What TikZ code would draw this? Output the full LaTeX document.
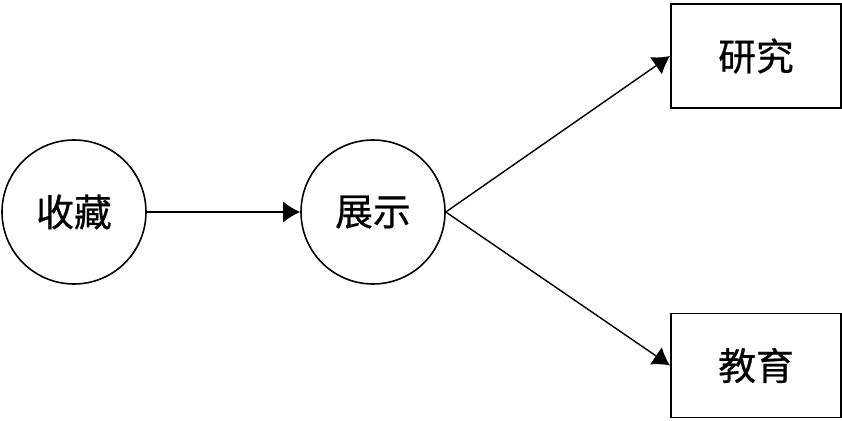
\documentclass[tikz,border=0pt]{standalone}
\usepackage{fontspec}
\newfontfamily\cjk[FakeBold=0.6]{Noto Sans CJK SC}
\usetikzlibrary{arrows.meta}

\begin{document}
\begin{tikzpicture}[
        every node/.style={font=\cjk\fontsize{21.5}{26}\selectfont},
        stage/.style={
            draw,
            circle,
            line width=0.9pt,
            inner sep=0pt,
            minimum size=2.88cm
        },
        goal/.style={
            draw,
            line width=1.1pt,
            minimum width=3.4cm,
            minimum height=2.08cm,
            align=center
        },
        arrow/.style={-{Latex[length=0.34cm,width=0.42cm]}, line width=0.8pt}
    ]

    \useasboundingbox (0,0) rectangle (16.84,8.4);

    % =========================
    % circles
    % =========================
    \node[stage] (shoucang) at (1.48,4.16) {收藏};
    \node[stage] (zhanshi) at (7.46,4.16) {展示};

    % =========================
    % boxes
    % =========================
    \node[goal] (yanjiu) at (15.12,7.28) {研究};
    \node[goal] (jiaoyu) at (15.12,1.09) {教育};

    % arrows
    \draw[arrow] (shoucang.east) -- (zhanshi.west);
    \draw[arrow] (zhanshi.east) -- (yanjiu.west);
    \draw[arrow] (zhanshi.east) -- (jiaoyu.west);

    \end{tikzpicture}
\end{document}
